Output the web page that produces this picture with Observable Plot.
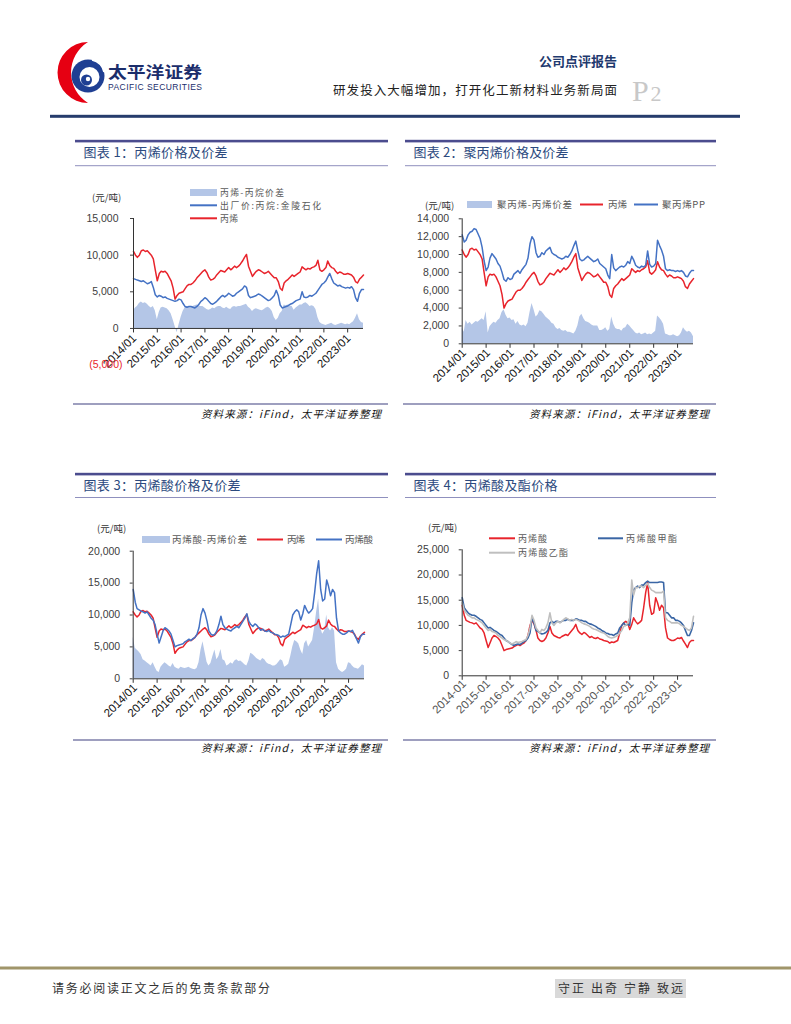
<!DOCTYPE html>
<html><head><meta charset="utf-8">
<script src="https://cdn.jsdelivr.net/npm/d3@7"></script>
<script src="https://cdn.jsdelivr.net/npm/@observablehq/plot@0.6"></script>
<style>
body{margin:0;background:#fff;}
#page{position:relative;width:791px;height:1024px;overflow:hidden;background:#fff;}
</style></head>
<body><div id="page"></div>
<script>
// ---------- DATA (monthly, 2014-01 .. 2023-09, 元/吨) ----------
const propylene = [
10500,10000,9700,10000,10600,10700,10500,10600,10300,10000,9500,8000,
6500,7500,7800,7700,7800,7500,7000,6500,5500,4000,4500,4800,
4900,5000,5400,5800,6000,6000,6200,6500,6900,7200,7500,7800,
8000,7600,7000,6600,6700,6900,7300,7600,7900,7800,7700,8000,
8300,8000,8200,8500,8300,8500,8800,9200,9700,10100,8500,7800,
7100,7500,7800,8000,7900,7700,7500,7600,7800,7500,7200,6900,
6900,6400,5500,5200,6200,6500,6700,7000,7300,7100,7300,7500,
7700,8400,8200,8000,8200,8100,8300,8400,8600,9300,8000,7800,
8000,8300,9200,8600,8300,8200,7800,7500,7700,7600,7400,7400,
7500,7400,7300,7000,6400,6200,6700,7000,7300];
const propane = [
6800,6700,6600,6500,6400,6500,6300,6100,6200,6400,5600,4600,
4300,4500,4400,4200,4300,4100,4000,3900,3800,3700,3800,4000,
3900,3400,3000,2900,3000,3000,2900,2800,3000,3300,3700,3900,
4200,4000,3700,3400,3300,3500,3700,4000,4300,4500,4300,4500,
4800,4600,4400,4500,4800,5000,5200,5400,5800,5600,4500,4200,
4300,4400,4500,4700,4600,4400,4200,4000,3800,3900,4200,4500,
5200,4500,3200,2800,2900,3000,3100,3300,3400,3600,3800,3900,
4000,5000,4300,4200,4300,4500,4400,4600,4800,5200,5600,6000,
6200,6500,7000,7500,6800,6200,6000,5800,5900,5700,5600,5500,
5600,5500,5700,5300,4200,3700,4800,5300,5300];
const spreadC3 = [
2400,2800,3000,3400,3600,3400,3500,3300,3000,2800,3000,2400,
1200,2200,2800,2900,2800,2700,2400,2000,1200,300,-600,500,
1500,2300,2800,3000,2900,2900,3000,3100,3200,3100,3000,3000,
2800,2600,2500,2600,2800,2700,2900,3000,3000,2800,2700,2900,
2700,2600,2900,3000,2900,3000,3000,3100,3200,3300,2900,2700,
2300,2600,2700,2600,2500,2400,2600,2800,2900,2700,2300,1500,
1100,1400,2000,2300,3200,3100,3200,3100,3000,2500,2800,3000,
3200,3200,3400,3500,3300,3000,3100,3000,2600,1500,800,600,
500,400,500,600,700,500,400,500,600,700,600,500,
600,500,700,900,1400,2000,1200,800,700];
const polypropylene = [
12200,11400,11600,12200,12500,12600,12900,12800,12300,11800,10800,9300,
8200,8600,9600,10100,9800,9500,9000,8700,8000,7200,7000,7400,
7200,7300,7800,8000,8200,7900,8300,8600,8900,9600,11200,12000,
11600,10200,9700,9800,10200,10000,10400,10600,10800,10200,10000,9900,
9700,9600,9500,9600,9800,9700,10000,10400,11000,11500,10400,9500,
9300,9400,9600,9800,9600,9400,9200,9300,9500,9000,8800,8600,
8400,7700,7300,10000,8500,8200,8400,8600,8700,8600,8800,9200,
9000,9800,9400,8800,8600,8500,8700,8600,8800,10400,8900,8600,
8700,9000,11600,11000,10500,9800,8400,8200,8300,8200,8200,8100,
8200,8100,8200,8000,7600,7500,7900,8200,8200];
const spreadPP = [
1800,1300,2600,2200,2400,2100,2300,2500,2400,2600,2800,2600,
3600,1200,1900,2200,2400,2300,2600,2800,3500,3800,3200,2800,
2900,2600,2700,2200,2500,2100,2000,2100,1900,2300,3500,4500,
3800,3000,3200,3700,3600,3300,3000,2800,2600,2300,2200,1800,
1600,1700,1500,1400,1500,1300,1300,1200,1100,1400,2000,3000,
3300,2800,2500,2400,2300,2100,2000,2000,2000,1500,1500,1600,
1800,1400,1600,3000,2200,1700,1600,1600,1400,1700,1800,2200,
2000,1700,1500,1200,1100,1200,1000,1100,1200,1000,1100,1000,
1200,1400,3100,2900,2600,2200,1100,1000,900,900,1000,900,
800,900,1200,1800,1500,1300,1400,1200,800];
const acrylicAcid = [
14000,12000,11000,10800,10600,10500,10300,10500,10000,9500,9200,8500,
7000,5600,6500,7500,8000,7800,7500,7000,6000,5000,5200,5300,
5400,5500,5800,6000,6200,6000,6300,6500,7000,8000,10000,11000,
10300,9000,7500,7000,6800,7000,7500,8500,9800,8500,8000,7800,
7600,7500,7800,8000,8200,8000,8500,9000,9500,10200,9000,8500,
8200,8600,8400,8000,7600,7800,7500,7400,7600,7300,7200,7000,
6900,6800,6500,6700,6600,6800,7000,8500,10000,10500,10800,10500,
9200,10200,11500,10800,10300,10600,11000,13500,16500,18500,14000,12200,
12500,15500,14500,13000,14000,13500,9500,7500,7200,7000,7000,7200,
7500,7400,7600,6900,6300,5600,6600,7000,7000];
const spreadAA = [
6500,4800,4500,4200,3800,3000,2800,2500,2300,2000,2500,1800,
1200,1000,1800,2200,2500,2300,2000,1800,2400,1800,1600,1500,
1800,1700,1600,1700,1800,1600,1500,1400,1600,2500,4500,5800,
4200,2600,2000,2400,3500,4500,3000,3500,4600,3000,2800,2000,
2200,2500,2300,2800,3000,2700,2800,2500,2200,2000,2800,4000,
3800,3500,3200,3000,2800,3200,3000,2500,2300,2200,2000,2000,
2200,2600,3000,2800,1800,2000,2300,3500,5000,6000,5800,5500,
4500,3800,5500,6000,5000,5500,6000,8000,10500,12500,8000,7000,
7500,10000,8000,7500,8000,7500,2500,1500,1200,1000,1200,1500,
2500,2400,2000,1700,1600,1500,1800,2200,2000];
const methylAcrylate = [
15500,13500,13000,12500,12200,12000,12000,11800,11500,11200,11000,10500,
10000,9500,9600,9300,9000,8800,8500,8200,8000,7500,7000,6800,
6500,6200,6000,6200,6300,6200,6500,6800,7000,7500,8500,11500,
10500,9000,8800,8500,8300,8400,8600,9000,10500,10800,10500,10800,
10800,10600,10800,11000,11000,11200,11000,11000,11000,11300,11200,11000,
11000,10800,10800,10500,10300,10200,10000,9800,9500,9300,9000,8800,
8500,8400,8200,8200,8000,8300,8500,9500,10000,10500,10000,10200,
10000,14500,17000,17500,17800,17500,18000,18000,18500,18800,18500,18500,
18500,18500,18500,18600,18600,18500,12500,12500,12000,11500,11500,11000,
11000,10800,10500,10000,9000,8000,8000,9000,10500];
const ethylAcrylate = [
14500,13000,12500,12000,11800,11500,11500,11200,11000,10800,10500,10000,
9500,9000,9200,8800,8700,8500,8000,7800,7500,7200,7000,6800,
6500,6300,6500,6800,6600,6700,6800,7000,7200,8000,9500,12000,
11000,9500,9000,8500,9200,9000,9500,10500,12500,10500,10000,10500,
10800,10500,10800,11200,11500,11300,11000,11200,11000,11200,11000,10800,
10500,10300,10200,10000,9800,9500,9300,9200,9000,8800,8600,8500,
8200,7800,7600,7500,7600,7800,8000,8500,9000,9800,10000,10500,
11500,19000,16000,17500,17500,17800,17800,17500,18000,18300,17500,17000,
16800,16500,16500,16500,16500,16800,11500,11000,10800,10500,10500,10500,
10500,10300,10000,9800,9500,9200,9000,9500,11800];

const tickYears = [2014,2015,2016,2017,2018,2019,2020,2021,2022,2023];
const xLabelsSlash = ["2014/01","2015/01","2016/01","2017/01","2018/01","2019/01","2020/01","2021/01","2022/01","2023/01"];
const xLabelsDash = ["2014-01","2015-01","2016-01","2017-01","2018-01","2019-01","2020-01","2021-01","2022-01","2023-01"];
const yTicks1 = [0,5000,10000,15000], yNeg1 = [-5000];
const yTicks2 = [0,2000,4000,6000,8000,10000,12000,14000];
const yTicks3 = [0,5000,10000,15000,20000];
const yTicks4 = [0,5000,10000,15000,20000,25000];

// ---------- helpers ----------
const dates = d3.utcMonth.range(new Date(Date.UTC(2014,0,1)), new Date(Date.UTC(2023,9,1)));
const xTicks = tickYears.map(y => new Date(Date.UTC(y,0,1)));
const RED = "#E8242C", BLUE = "#4472C4", AREA = "#B4C6E7", BLUE4 = "#3A66A5", GRAY4 = "#BFBFBF";
const CJK = "'Noto Sans CJK SC', sans-serif";
const NS = "http://www.w3.org/2000/svg";
const page = document.getElementById("page");
const bg = document.createElementNS(NS, "svg");
bg.setAttribute("width", 791); bg.setAttribute("height", 1024);
bg.style.position = "absolute"; bg.style.left = "0"; bg.style.top = "0";
page.appendChild(bg);
function el(tag, attrs){ const e = document.createElementNS(NS, tag); for (const k in attrs) e.setAttribute(k, attrs[k]); bg.appendChild(e); return e; }
function txt(x, y, s, attrs){ const e = el("text", Object.assign({x, y, "font-family": CJK}, attrs || {})); e.textContent = s; return e; }

// ---------- header ----------
el("path", {d: "M88 42 A30.5 30.5 0 0 0 88 103 A35.9 35.9 0 0 1 88 42 Z", fill: "#E60012"});
el("circle", {cx: 88, cy: 76, r: 16.5, fill: "#1F3F93"});
el("circle", {cx: 89.5, cy: 77, r: 10, fill: "#fff"});
el("circle", {cx: 86.5, cy: 80, r: 5.5, fill: "#1F3F93"});
el("circle", {cx: 88, cy: 79, r: 2.2, fill: "#fff"});
el("path", {d: "M92 60 A16 16 0 0 1 104 72", stroke: "#fff", "stroke-width": 1.6, fill: "none"});
txt(108, 77.5, "太平洋证券", {"font-size": 16, "font-weight": 700, fill: "#1B2D6B", textLength: 94, lengthAdjust: "spacingAndGlyphs"});
txt(108, 89.5, "PACIFIC SECURITIES", {"font-family": "'Liberation Sans', Arial, sans-serif", "font-size": 8.5, fill: "#1B2D6B", textLength: 94, lengthAdjust: "spacing"});
txt(617, 66, "公司点评报告", {"font-size": 13, "font-weight": 700, fill: "#1F3A6E", "text-anchor": "end"});
txt(333, 94.5, "研发投入大幅增加，打开化工新材料业务新局面", {"font-size": 12.5, fill: "#222", textLength: 284, lengthAdjust: "spacing"});
txt(632, 101, "P", {"font-family": "'Liberation Serif', serif", "font-size": 30, fill: "#C8C8C8"});
txt(650.5, 101, "2", {"font-family": "'Liberation Serif', serif", "font-size": 22, fill: "#C8C8C8"});
el("rect", {x: 50, y: 114.8, width: 690, height: 3, fill: "#263C6C"});

// ---------- panels ----------
function panel(x0, x1, yTop, yUnder, yBottom, title, tLen, tBase, srcBase){
  el("rect", {x: x0, y: yTop - 1.2, width: x1 - x0, height: 2.6, fill: "#4B4C8E"});
  txt(x0 + 8.5, tBase, title, {"font-size": 13, fill: "#2C4A7E", textLength: tLen, lengthAdjust: "spacing"});
  el("rect", {x: x0, y: yUnder - 0.5, width: x1 - x0, height: 1, fill: "#8F90BE"});
  el("rect", {x: x0 - 2, y: yBottom - 0.6, width: x1 - x0 + 2, height: 1.2, fill: "#5F6096"});
  txt(x1 - 7, srcBase, "资料来源：iFind，太平洋证券整理", {"font-size": 10.5, "font-style": "italic", fill: "#111", "text-anchor": "end", textLength: 180, lengthAdjust: "spacing"});
}
panel(75, 388, 141, 165.7, 404, "图表 1：丙烯价格及价差", 144, 157, 418);
panel(405, 716, 141, 165.7, 404, "图表 2：聚丙烯价格及价差", 155, 157, 418);
panel(75, 388, 474, 497.5, 740, "图表 3：丙烯酸价格及价差", 157, 490, 752);
panel(405, 716, 474, 497.5, 740, "图表 4：丙烯酸及酯价格", 144, 490, 752);

// ---------- legends ----------
function lgArea(x, y, w){ el("rect", {x, y: y - 3.5, width: w, height: 7, fill: AREA}); }
function lgLine(x, y, w, c){ el("line", {x1: x, x2: x + w, y1: y, y2: y, stroke: c, "stroke-width": 2}); }
function lgText(x, y, s, len, fs){ txt(x, y + 3.3, s, {"font-size": fs || 9.5, fill: "#595959", textLength: len, lengthAdjust: "spacing"}); }
// chart 1 (stacked rows, smaller font)
txt(92, 200.5, "(元/吨)", {"font-size": 9.5, fill: "#333"});
lgArea(190, 192.5, 27); lgText(220, 192.5, "丙烯-丙烷价差", 64, 8.8);
lgLine(190, 205.3, 27, BLUE); lgText(220, 205.3, "出厂价:丙烷:金陵石化", 101, 8.8);
lgLine(190, 218.3, 27, RED); lgText(220, 218.3, "丙烯", 18, 8.8);
// chart 2
txt(425, 208.5, "(元/吨)", {"font-size": 9.5, fill: "#333"});
lgArea(467, 204.5, 25); lgText(497, 204.5, "聚丙烯-丙烯价差", 75);
lgLine(580, 204.5, 23, RED); lgText(608, 204.5, "丙烯", 19);
lgLine(634, 204.5, 24, BLUE); lgText(662, 204.5, "聚丙烯PP", 43);
// chart 3
txt(97, 531.5, "(元/吨)", {"font-size": 9.5, fill: "#333"});
lgArea(142, 539.5, 28); lgText(172, 539.5, "丙烯酸-丙烯价差", 75);
lgLine(257, 539.5, 26, RED); lgText(287, 539.5, "丙烯", 18);
lgLine(316, 539.5, 26, BLUE); lgText(345, 539.5, "丙烯酸", 28);
// chart 4
txt(428, 530.5, "(元/吨)", {"font-size": 9.5, fill: "#333"});
lgLine(489, 538.3, 26, RED); lgText(518, 538.3, "丙烯酸", 29, 9);
lgLine(598, 538.3, 25, BLUE4); lgText(626, 538.3, "丙烯酸甲酯", 51, 9);
lgLine(489, 552.7, 26, GRAY4); lgText(518, 552.7, "丙烯酸乙酯", 50, 9);

// ---------- footer ----------
el("rect", {x: 0, y: 966.5, width: 791, height: 3, fill: "#A0956A"});
txt(52, 993, "请务必阅读正文之后的免责条款部分", {"font-size": 12, fill: "#333", textLength: 218, lengthAdjust: "spacing"});
el("rect", {x: 555, y: 979, width: 131, height: 19, fill: "#D9D9D9"});
txt(558, 993, "守正 出奇 宁静 致远", {"font-size": 12, fill: "#333", textLength: 125, lengthAdjust: "spacing"});

// ---------- charts ----------
const tickSym = {draw(ctx){ ctx.moveTo(0, 0); ctx.lineTo(0, 4); }};
const fmt = d3.format(",");
function axes(yTicks, yMax, labels, lo){
  return [
    Plot.ruleY([0], {stroke: "#333", strokeWidth: 1}),
    Plot.ruleX([dates[0]], {y1: 0, y2: yMax, stroke: "#333", strokeWidth: 1}),
    Plot.axisY({ticks: yTicks, tickSize: 3, tickPadding: lo.yPad, tickFormat: fmt, fontSize: 10.5}),
    Plot.dot(xTicks, {x: d => d, y: 0, symbol: tickSym, stroke: "#333", fill: "none", strokeWidth: 1}),
    Plot.text(xTicks, {x: d => d, y: 0, text: (d, i) => labels[i], rotate: -45, textAnchor: "end", lineAnchor: "middle",
      dx: lo.dx, dy: lo.dy, fontSize: lo.fs, fill: lo.fill})
  ];
}
function makeChart(c){
  const svg = Plot.plot({
    width: c.w, height: c.h, marginLeft: c.ml, marginRight: c.mr, marginTop: c.mt, marginBottom: c.mb,
    x: {type: "utc", domain: [dates[0], dates[dates.length - 1]], axis: null},
    y: {domain: c.yDomain, axis: null},
    style: {background: "none", overflow: "visible", fontFamily: "'Liberation Sans', Arial, sans-serif", fontSize: "10.5px", color: "#404040"},
    marks: c.marks
  });
  svg.style.position = "absolute"; svg.style.left = c.left + "px"; svg.style.top = c.top + "px";
  page.appendChild(svg);
}

const d1 = dates.map((date, i) => ({date, propylene: propylene[i], propane: propane[i], spread: spreadC3[i]}));
makeChart({left: 73, top: 168, w: 315, h: 232, ml: 60, mr: 25, mt: 50, mb: 35.4, yDomain: [-5000, 15000],
  marks: [
    Plot.areaY(d1, {x: "date", y1: 0, y2: "spread", fill: AREA}),
    Plot.lineY(d1, {x: "date", y: "propane", stroke: BLUE, strokeWidth: 1.5}),
    Plot.lineY(d1, {x: "date", y: "propylene", stroke: RED, strokeWidth: 1.5}),
    ...axes(yTicks1, 15000, xLabelsSlash, {dx: 1, dy: 8, fs: 11.5, fill: "#111", yPad: 12}),
    Plot.text(yNeg1, {x: dates[0], y: d => d, text: d => "(" + fmt(-d) + ")", textAnchor: "end", dx: -11, fill: RED, fontSize: 10.5})
  ]});

const d2 = dates.map((date, i) => ({date, propylene: propylene[i], pp: polypropylene[i], spread: spreadPP[i]}));
makeChart({left: 404, top: 168, w: 312, h: 232, ml: 57.7, mr: 23, mt: 50.3, mb: 56.7, yDomain: [0, 14000],
  marks: [
    Plot.areaY(d2, {x: "date", y1: 0, y2: "spread", fill: AREA}),
    Plot.lineY(d2, {x: "date", y: "propylene", stroke: RED, strokeWidth: 1.5}),
    Plot.lineY(d2, {x: "date", y: "pp", stroke: BLUE, strokeWidth: 1.5}),
    ...axes(yTicks2, 14000, xLabelsSlash, {dx: 2, dy: 7, fs: 11.5, fill: "#111", yPad: 10})
  ]});

const d3d = dates.map((date, i) => ({date, propylene: propylene[i], aa: acrylicAcid[i], spread: spreadAA[i]}));
makeChart({left: 73, top: 502, w: 315, h: 236, ml: 59.7, mr: 24, mt: 48.7, mb: 59.7, yDomain: [0, 20000],
  marks: [
    Plot.areaY(d3d, {x: "date", y1: 0, y2: "spread", fill: AREA}),
    Plot.lineY(d3d, {x: "date", y: "propylene", stroke: RED, strokeWidth: 1.5}),
    Plot.lineY(d3d, {x: "date", y: "aa", stroke: BLUE, strokeWidth: 1.5}),
    ...axes(yTicks3, 20000, xLabelsSlash, {dx: 2, dy: 7, fs: 11.5, fill: "#111", yPad: 10})
  ]});

const d4 = dates.map((date, i) => ({date, aa: acrylicAcid[i], ma: methylAcrylate[i], ea: ethylAcrylate[i]}));
makeChart({left: 404, top: 502, w: 312, h: 236, ml: 57.7, mr: 23, mt: 47.3, mb: 62.7, yDomain: [0, 25000],
  marks: [
    Plot.lineY(d4, {x: "date", y: "aa", stroke: RED, strokeWidth: 1.5}),
    Plot.lineY(d4, {x: "date", y: "ma", stroke: BLUE4, strokeWidth: 1.6}),
    Plot.lineY(d4, {x: "date", y: "ea", stroke: GRAY4, strokeWidth: 1.6}),
    ...axes(yTicks4, 25000, xLabelsDash, {dx: 2, dy: 6, fs: 11.5, fill: "#555", yPad: 10})
  ]});
</script>
</body></html>
